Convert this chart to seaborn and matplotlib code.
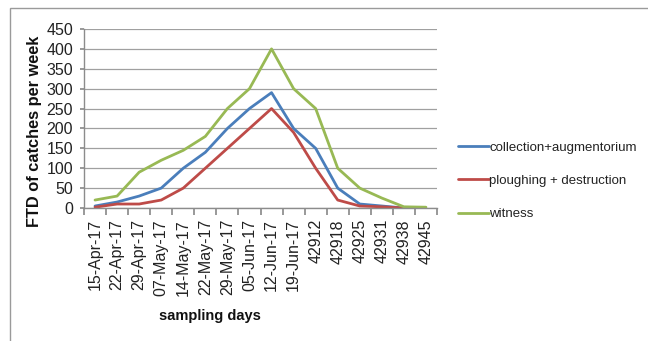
import matplotlib
matplotlib.use("Agg")
import matplotlib.pyplot as plt
from matplotlib.patches import Rectangle
from matplotlib.lines import Line2D
import seaborn as sns
import pandas as pd
import numpy as np

sampling_days = ["15-Apr-17", "22-Apr-17", "29-Apr-17", "07-May-17", "14-May-17",
                 "22-May-17", "29-May-17", "05-Jun-17", "12-Jun-17", "19-Jun-17",
                 "42912", "42918", "42925", "42931", "42938", "42945"]

collection = [5, 15, 30, 50, 100, 140, 200, 250, 290, 200, 150, 50, 10, 5, 0, None]
ploughing = [2, 10, 10, 20, 50, 100, 150, 200, 250, 190, 100, 20, 5, 3, 0, None]
witness = [20, 30, 90, 120, 145, 180, 250, 300, 400, 300, 250, 100, 50, 25, 3, 2]

series_names = ["collection+augmentorium", "ploughing + destruction", "witness"]
series_values = [collection, ploughing, witness]
palette = ["#4A7EBB", "#BE4B48", "#98B954"]

rows = []
for name, vals in zip(series_names, series_values):
    for i, v in enumerate(vals):
        if v is not None:
            rows.append({"idx": i, "value": v, "series": name})
df = pd.DataFrame(rows)

sns.set_theme(style="white")
plt.rcParams["font.family"] = ["Liberation Sans", "DejaVu Sans"]

fig = plt.figure(figsize=(6.48, 3.41), dpi=100)
fig.patch.set_facecolor("white")
# outer chart frame
fig.add_artist(Rectangle((10 / 648, -0.05), 1.0, 1 - 8 / 341 + 0.05,
                         transform=fig.transFigure, fill=False,
                         edgecolor="#9a9a9a", linewidth=1.0))

ax = fig.add_axes([84 / 648, 1 - 208 / 341, (437 - 84) / 648, (208 - 29) / 341])

sns.lineplot(data=df, x="idx", y="value", hue="series", hue_order=series_names,
             palette=palette, linewidth=2.0, ax=ax, legend=False, sort=False)

ax.set_xlim(-0.5, len(sampling_days) - 0.5)
ax.set_ylim(0, 450)
ax.set_yticks(np.arange(0, 451, 50))
ax.yaxis.grid(True, color="#a0a0a0", linewidth=0.9)
ax.xaxis.grid(False)

# category boundaries carry the tick marks, labels sit at category centres
ax.set_xticks(np.arange(-0.5, len(sampling_days), 1.0))
ax.set_xticklabels([])
ax.set_xticks(np.arange(len(sampling_days)), minor=True)
ax.set_xticklabels(sampling_days, minor=True, rotation=90, fontsize=11.5, color="#222222")
ax.tick_params(axis="x", which="major", length=5, color="#8c8c8c", direction="out", bottom=True)
ax.tick_params(axis="x", which="minor", length=0, pad=8, bottom=True)
ax.tick_params(axis="y", length=3, color="#8c8c8c", direction="out", left=True,
               labelsize=11.5, labelcolor="#222222", pad=5)

for s in ["top", "right"]:
    ax.spines[s].set_visible(False)
for s in ["left", "bottom"]:
    ax.spines[s].set_color("#8c8c8c")
    ax.spines[s].set_linewidth(1.0)

ax.set_xlabel("")
ax.set_ylabel("")
fig.text(35 / 648, 1 - 131 / 341, "FTD of catches per week", rotation=90,
         ha="center", va="center", fontsize=11.8, fontweight="bold", color="#111111")
fig.text(210 / 648, 1 - 316 / 341, "sampling days", ha="center", va="center",
         fontsize=10.5, fontweight="bold", color="#111111")

# legend
handles = [Line2D([0], [0], color=c, linewidth=2.0) for c in palette]
leg = fig.legend(handles, series_names, loc="upper left",
                 bbox_to_anchor=(453 / 648, 1 - 136 / 341), frameon=False,
                 fontsize=9.5, handlelength=2.3, handletextpad=0.05,
                 labelspacing=1.6, borderaxespad=0)
for t in leg.get_texts():
    t.set_color("#222222")

fig.savefig("out.png", dpi=100, facecolor="white")
